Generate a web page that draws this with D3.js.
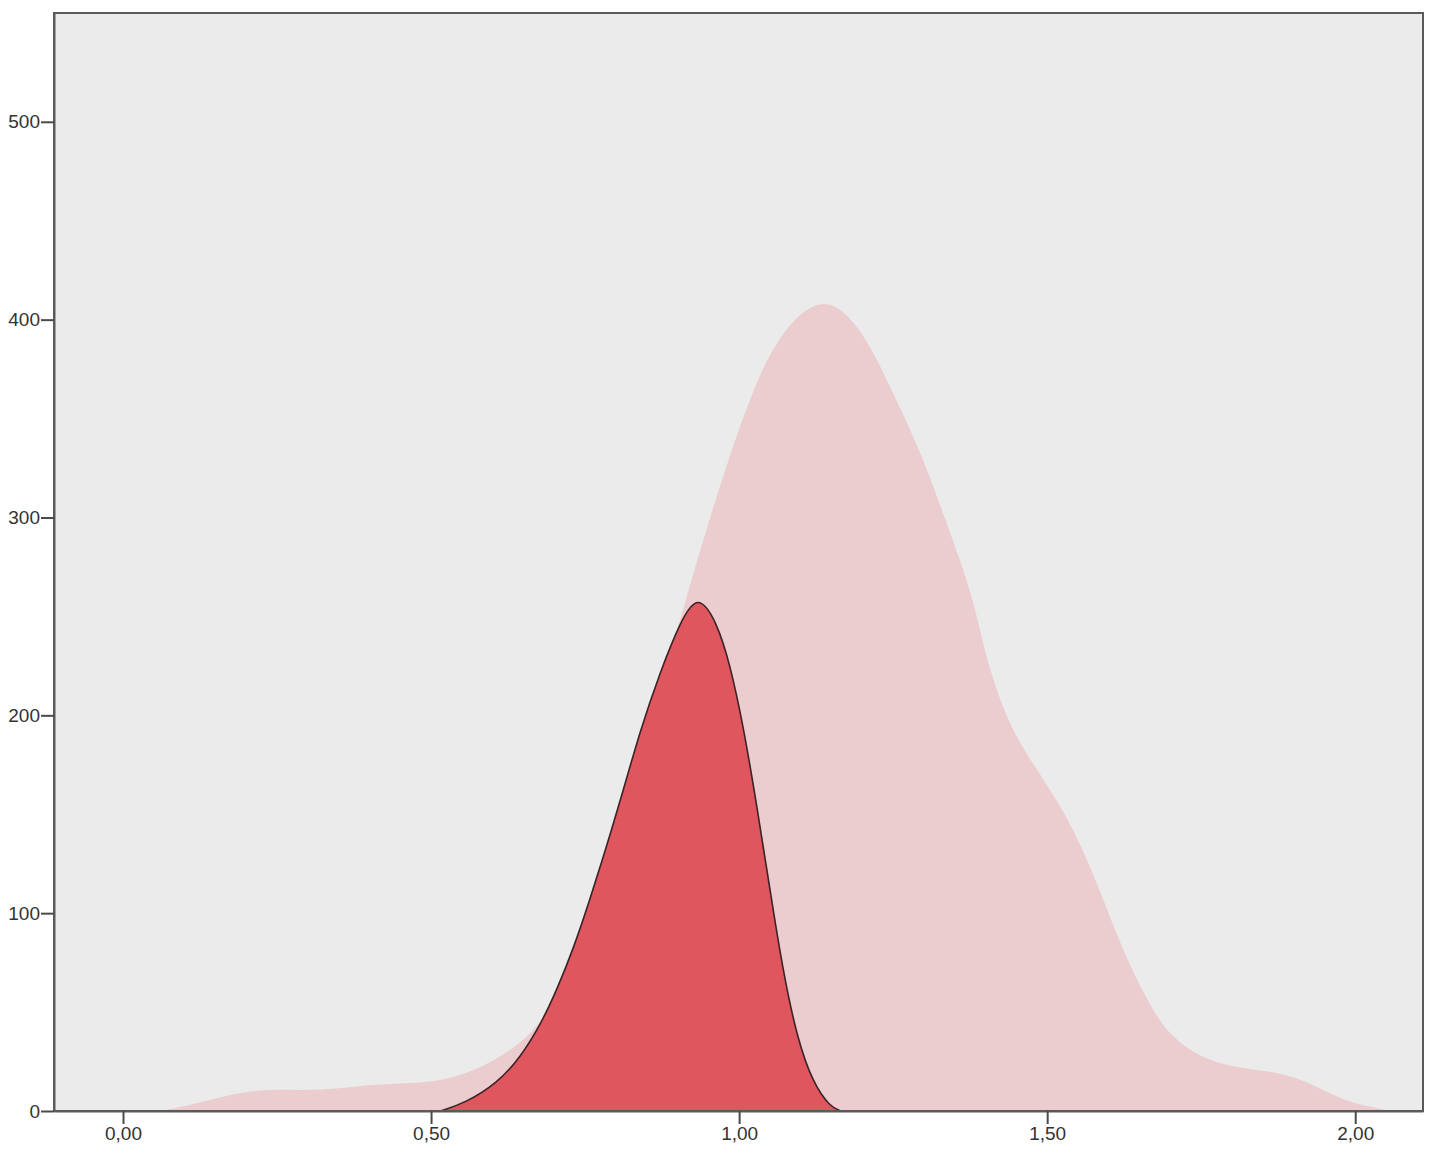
<!DOCTYPE html>
<html>
<head>
<meta charset="utf-8">
<script src="https://cdn.jsdelivr.net/npm/d3@7"></script>
<style>
  body { margin: 0; background: #fff; }
  svg text { font-family: Arial, "Liberation Sans", sans-serif; fill: #333; }
</style>
</head>
<body>
<svg id="chart" width="1437" height="1163"></svg>
<script>
// Data
var allX = [0.06, 0.125, 0.18, 0.235, 0.29, 0.34, 0.395, 0.45, 0.505, 0.56, 0.612, 0.656, 0.688,
	0.705, 0.731, 0.758, 0.786, 0.812, 0.839, 0.872, 0.904, 0.92, 0.948, 0.98, 1.018, 1.062, 1.136,
	1.201, 1.245, 1.294, 1.331, 1.364, 1.386, 1.403, 1.44, 1.489, 1.532, 1.565, 1.591, 1.623, 1.662,
	1.695, 1.748, 1.802, 1.867, 1.911, 1.938, 1.992, 2.036, 2.06];
var allY = [0, 4, 9, 11, 10.5, 11, 13, 14, 14.5, 19, 27, 37, 49,
	60, 80, 106, 135, 160, 190, 219, 247, 266, 295, 327, 361, 392, 415,
	395, 366, 334, 302, 274, 251, 226, 193, 170, 149, 127, 107, 81, 56,
	39, 27, 22, 20, 16, 12, 4, 1.5, 0];

var subX = [0.515, 0.555, 0.607, 0.645, 0.68, 0.705, 0.731, 0.758, 0.786, 0.812, 0.839, 0.872, 0.904, 0.933,
	0.964, 0.985, 1.006, 1.029, 1.05, 1.071, 1.094, 1.12, 1.148, 1.165];
var subY = [0, 4, 14, 27, 45, 62, 82, 107, 135, 162, 192, 222, 247, 262,
	247, 226, 196, 154, 112, 71, 37, 14, 2, 0];

var xTicks = [0, 0.5, 1, 1.5, 2];
var yTicks = [0, 100, 200, 300, 400, 500];

var margin = {left: 54, top: 13, right: 14, bottom: 52};
var width = 1437 - margin.left - margin.right,
	height = 1163 - margin.top - margin.bottom;

var x = d3.scaleLinear().domain([-0.112, 2.11]).range([0, width]);
var y = d3.scaleLinear().domain([0, 555]).range([height, 0]);

var svg = d3.select("#chart").append("g")
	.attr("transform", "translate(" + margin.left + "," + margin.top + ")");

svg.append("rect")
	.attr("width", width)
	.attr("height", height)
	.attr("fill", "#ebebeb");

var area = d3.area()
	.x(function(d) { return x(d[0]); })
	.y0(height)
	.y1(function(d) { return y(d[1]); })
	.curve(d3.curveBasis);

var line = d3.line()
	.x(function(d) { return x(d[0]); })
	.y(function(d) { return y(d[1]); })
	.curve(d3.curveBasis);

var allData = d3.zip(allX, allY);
var subData = d3.zip(subX, subY);

svg.append("path")
	.datum(allData)
	.attr("fill", "#ebcdd0")
	.attr("d", area);

svg.append("path")
	.datum(subData)
	.attr("fill", "#e0565f")
	.attr("d", area);

svg.append("path")
	.datum(subData)
	.attr("fill", "none")
	.attr("stroke", "#3a2326")
	.attr("stroke-width", 1.6)
	.attr("d", line);

// frame
svg.append("rect")
	.attr("width", width)
	.attr("height", height)
	.attr("fill", "none")
	.attr("stroke", "#5a5a5a")
	.attr("stroke-width", 2);

var fmt = function(d) { return d3.format(".2f")(d).replace(".", ","); };

var xAxis = d3.axisBottom(x).tickValues(xTicks).tickFormat(fmt)
	.tickSize(13).tickSizeOuter(0).tickPadding(3);
var yAxis = d3.axisLeft(y).tickValues(yTicks).tickFormat(d3.format("d"))
	.tickSize(13).tickSizeOuter(0).tickPadding(1);

var gx = svg.append("g")
	.attr("transform", "translate(0," + height + ")")
	.call(xAxis);
var gy = svg.append("g").call(yAxis);

[gx, gy].forEach(function(g) {
	g.select(".domain").attr("stroke", "#5a5a5a").attr("stroke-width", 2);
	g.selectAll(".tick line").attr("stroke", "#4a4a4a").attr("stroke-width", 2);
	g.selectAll(".tick text").attr("font-size", 19).attr("fill", "#333");
});
</script>
</body>
</html>
